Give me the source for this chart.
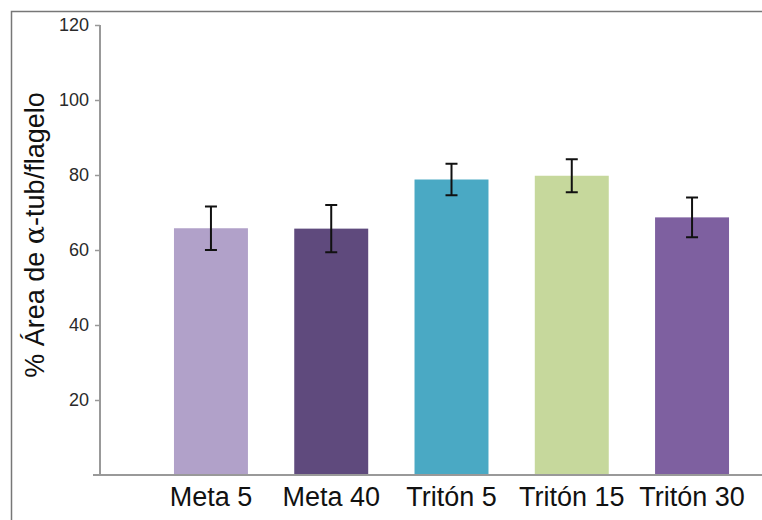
<!DOCTYPE html>
<html>
<head>
<meta charset="utf-8">
<script src="https://cdn.jsdelivr.net/npm/d3@7"></script>
<style>
  body { margin: 0; background: #fff; }
  svg { display: block; font-family: Arial, 'Liberation Sans', sans-serif; }
</style>
</head>
<body>
<div id="chart"></div>
<script>
const categories = ['Meta 5', 'Meta 40', 'Tritón 5', 'Tritón 15', 'Tritón 30']
const means = [65.8, 65.7, 78.8, 79.8, 68.7]
const errors = [5.8, 6.3, 4.2, 4.4, 5.3]
const colors = ['#b1a1c9', '#5f4a7d', '#4aa9c4', '#c6d89c', '#7e60a0']
const yTicks = [20, 40, 60, 80, 100, 120]

const width = 762
const height = 520
const margin = { top: 25, left: 100, bottom: 45 }

const svg = d3
  .select('#chart')
  .append('svg')
  .attr('width', width)
  .attr('height', height)

// frame (top + left only)
svg
  .append('path')
  .attr('d', `M11.5,${height} V11.5 H${width}`)
  .attr('fill', 'none')
  .attr('stroke', '#777')
  .attr('stroke-width', 1.5)

const yScale = d3
  .scaleLinear()
  .domain([0, 120])
  .range([height - margin.bottom, margin.top])

const xScale = d3
  .scaleBand()
  .domain(categories)
  .range([margin.left, 803])
  .paddingInner(0.385)
  .paddingOuter(0.615)

// bars
svg
  .selectAll('.bar')
  .data(categories)
  .enter()
  .append('rect')
  .attr('class', 'bar')
  .attr('x', d => xScale(d))
  .attr('width', xScale.bandwidth())
  .attr('y', (d, i) => yScale(means[i]))
  .attr('height', (d, i) => yScale(0) - yScale(means[i]))
  .attr('fill', (d, i) => colors[i])

// error bars
const errG = svg
  .selectAll('.err')
  .data(categories)
  .enter()
  .append('g')
  .attr('class', 'err')
  .attr('stroke', '#111')
  .attr('stroke-width', 2)

errG
  .append('line')
  .attr('x1', d => xScale(d) + xScale.bandwidth() / 2)
  .attr('x2', d => xScale(d) + xScale.bandwidth() / 2)
  .attr('y1', (d, i) => yScale(means[i] + errors[i]))
  .attr('y2', (d, i) => yScale(means[i] - errors[i]))

errG
  .selectAll('.cap')
  .data((d, i) => [
    { c: d, v: means[i] + errors[i] },
    { c: d, v: means[i] - errors[i] }
  ])
  .enter()
  .append('line')
  .attr('x1', d => xScale(d.c) + xScale.bandwidth() / 2 - 6)
  .attr('x2', d => xScale(d.c) + xScale.bandwidth() / 2 + 6)
  .attr('y1', d => yScale(d.v))
  .attr('y2', d => yScale(d.v))

// y axis
const yAxis = svg
  .append('g')
  .attr('transform', `translate(${margin.left},0)`)
  .call(
    d3
      .axisLeft(yScale)
      .tickValues(yTicks)
      .tickSize(5)
      .tickPadding(6)
      .tickSizeOuter(0)
  )
yAxis.select('.domain').remove()
yAxis
  .append('line')
  .attr('x1', 0)
  .attr('x2', 0)
  .attr('y1', yScale(0))
  .attr('y2', yScale(120))
  .attr('stroke', '#999')
  .attr('stroke-width', 2)
yAxis.selectAll('.tick line').attr('stroke', '#999').attr('stroke-width', 1.5)
yAxis
  .selectAll('.tick text')
  .attr('fill', '#2a2a2a')
  .attr('font-size', 18)
  .attr('font-family', 'Arial, Liberation Sans, sans-serif')

// x axis
svg
  .append('line')
  .attr('x1', margin.left - 7)
  .attr('x2', width)
  .attr('y1', yScale(0))
  .attr('y2', yScale(0))
  .attr('stroke', '#999')
  .attr('stroke-width', 2)

svg
  .selectAll('.xlabel')
  .data(categories)
  .enter()
  .append('text')
  .attr('class', 'xlabel')
  .attr('x', d => xScale(d) + xScale.bandwidth() / 2)
  .attr('y', 506)
  .attr('text-anchor', 'middle')
  .attr('font-size', 27)
  .attr('fill', '#111')
  .text(d => d)

// y title
const title = svg
  .append('text')
  .attr('transform', `translate(44,235) rotate(-90)`)
  .attr('text-anchor', 'middle')
  .attr('font-size', 27)
  .attr('fill', '#111')
title.append('tspan').text('% Área de ')
title.append('tspan').attr('font-family', 'DejaVu Serif, serif').text('α')
title.append('tspan').text('-tub/flagelo')
</script>
</body>
</html>
